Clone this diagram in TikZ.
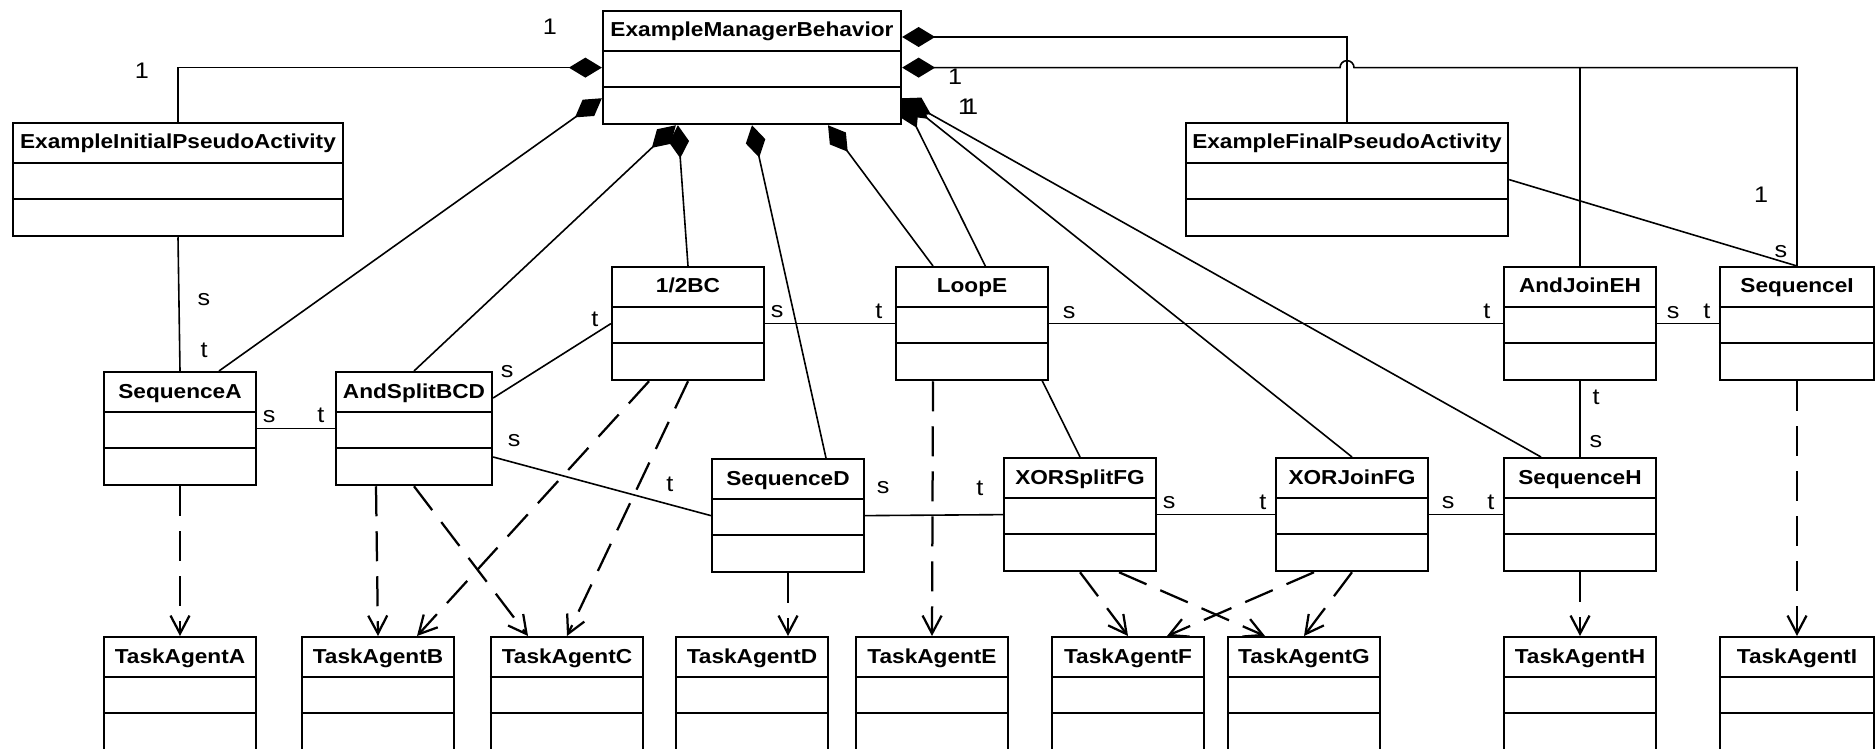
\documentclass[tikz,border=0pt]{standalone}
\usepackage{fontspec}
\setmainfont[FakeStretch=1.12]{Liberation Sans}
\usepackage{tikz}
\usetikzlibrary{calc,arrows.meta,backgrounds}
\tikzset{
  cls/.style={draw, fill=white, line width=0.45mm, anchor=north, minimum height=22.6mm, inner sep=0pt},
  ttl/.style={anchor=base, font=\bfseries\fontsize{11.5}{13}\selectfont, inner sep=0pt},
  rowline/.style={line width=0.45mm},
  assoc/.style={line width=0.32mm},
  comp/.style={assoc, {Diamond[length=6.6mm,width=4mm]}-},
  dep/.style={line width=0.45mm, dash pattern=on 6mm off 3mm, -{Straight Barb[length=3.6mm,width=3.8mm]}},
  lab/.style={font=\fontsize{12.8}{14}\selectfont, inner sep=0pt},
}

\begin{document}
\begin{tikzpicture}[x=0.2mm, y=-0.2mm]
  \useasboundingbox (0,0) rectangle (1876,749);
  % classes: name/x/top/width/title
  \foreach \n/\x/\y/\w/\t in {
      emb/752/10/298/ExampleManagerBehavior,
      init/178/122/330/ExampleInitialPseudoActivity,
      final/1347/122/322/ExampleFinalPseudoActivity,
      half/688/266/152/{1/2BC},
      loopE/972/266/152/LoopE,
      andJ/1580/266/152/AndJoinEH,
      seqI/1797/266/154/SequenceI,
      seqA/180/371/152/SequenceA,
      andS/414/371/156/AndSplitBCD,
      seqD/788/458/152/SequenceD,
      xorS/1080/457/152/XORSplitFG,
      xorJ/1352/457/152/XORJoinFG,
      seqH/1580/457/152/SequenceH,
      taskA/180/636/152/TaskAgentA,
      taskB/378/636/152/TaskAgentB,
      taskC/567/636/152/TaskAgentC,
      taskD/752/636/152/TaskAgentD,
      taskE/932/636/152/TaskAgentE,
      taskF/1128/636/152/TaskAgentF,
      taskG/1304/636/152/TaskAgentG,
      taskH/1580/636/152/TaskAgentH,
      taskI/1797/636/154/TaskAgentI}{
    \node[cls, minimum width=\w*0.2mm] (\n) at (\x,\y) {};
    \node[ttl] (\n-t) at ($(\n.north)+(0,27)$) {\t};
    \draw[rowline] ($(\n.north west)+(0,41)$) -- ($(\n.north east)+(0,41)$)
                   ($(\n.north west)+(0,77)$) -- ($(\n.north east)+(0,77)$);
  }

  \begin{pgfonlayer}{background}
    % composition from the manager
    \draw[comp] (emb.west) node[lab, shift={(-52,-41)}] {1} -| (init.north) node[lab, pos=0.5, shift={(-36,3)}] {1};
    \draw[comp] ($(emb.north east)+(0,27)$) -| (final.north);
    \draw[comp] (emb.east) node[lab, shift={(53,9)}] {1} -- ($(final.north |- emb.east)+(-7,0)$)
      arc[start angle=180, end angle=0, radius=1.4mm] -- (seqI.north |- emb.east) -- (seqI.north);
    \draw[assoc] (andJ.north |- emb.east) -- (andJ.north);
    \draw[assoc] (final.east) -- (seqI.north) node[lab, shift={(-36,-71)}] {1} node[lab, shift={(-16,-14)}] {s};
    \draw[comp] ($(emb.south west)+(0,-27)$) -- ($(seqA.north)+(39,0)$);
    \draw[comp] ($(emb.south west)+(74,0)$) -- (andS.north);
    \draw[comp] ($(emb.south west)+(76,0)$) -- (half.north);
    \draw[comp] (emb.south) -- ($(seqD.north)+(38,0)$);
    \draw[comp] ($(emb.south)+(76,0)$) -- ($(loopE.north)+(-39,0)$);
    \draw[comp] ($(emb.south east)+(0,-27)$) -- (xorS.north);
    \draw[comp] ($(emb.south east)+(0,-27)$) node[lab, shift={(63,9)}] {1} -- (xorJ.north);
    \draw[comp] ($(emb.south east)+(0,-27)$) node[lab, shift={(69,9)}] {1} -- ($(seqH.north)+(-39,0)$);

    % source / target links
    \draw[assoc] (init.south) node[lab, shift={(26,62)}] {s} -- (seqA.north) node[lab, shift={(24,-21)}] {t};
    \draw[assoc] (seqA.east) node[lab, shift={(12,-12)}] {s} -- (andS.west) node[lab, shift={(-14,-13)}] {t};
    \draw[assoc] ($(andS.north east)+(0,27)$) node[lab, shift={(14,-26)}] {s} -- (half.west) node[lab, shift={(-16,-4)}] {t};
    \draw[assoc] ($(andS.north east)+(0,86)$) node[lab, shift={(21,-16)}] {s} -- (seqD.west) node[lab, shift={(-41,-31)}] {t};
    \draw[assoc] (half.east) node[lab, shift={(12,-12)}] {s} -- (loopE.west) node[lab, shift={(-16,-12)}] {t};
    \draw[assoc] (loopE.east) node[lab, shift={(20,-11)}] {s} -- (andJ.west) node[lab, shift={(-16,-12)}] {t};
    \draw[assoc] (andJ.east) node[lab, shift={(16,-11)}] {s} -- (seqI.west) node[lab, shift={(-12,-12)}] {t};
    \draw[assoc] (andJ.south) node[lab, shift={(16,16)}] {t} -- (seqH.north) node[lab, shift={(16,-15)}] {s};
    \draw[assoc] (seqD.east) node[lab, shift={(18,-28)}] {s} -- (xorS.west) node[lab, shift={(-23,-26)}] {t};
    \draw[assoc] (xorS.east) node[lab, shift={(12,-12)}] {s} -- (xorJ.west) node[lab, shift={(-12,-12)}] {t};
    \draw[assoc] (xorJ.east) node[lab, shift={(19,-12)}] {s} -- (seqH.west) node[lab, shift={(-12,-12)}] {t};

    % dependencies on the task agents
    \draw[dep] (seqA) -- (taskA);
    \draw[dep] ($(andS.south)+(-38,0)$) -- (taskB.north);
    \draw[dep] (andS.south) -- ($(taskC.north)+(-39,0)$);
    \draw[dep] ($(half.south)+(-39,0)$) -- ($(taskB.north)+(39,0)$);
    \draw[dep] (half.south) -- (taskC.north);
    \draw[dep] (seqD.south) -- (seqD.south |- taskD.north);
    \draw[dep] ($(loopE.south)+(-39,0)$) -- (taskE.north);
    \draw[dep] (xorS.south) -- (taskF.north);
    \draw[dep] ($(xorS.south)+(39,0)$) -- ($(taskG.north)+(-39,0)$);
    \draw[dep] ($(xorJ.south)+(-38,0)$) -- ($(taskF.north)+(39,0)$);
    \draw[dep] (xorJ.south) -- (taskG.north);
    \draw[dep] (seqH) -- (taskH);
    \draw[dep] (seqI) -- (taskI);
  \end{pgfonlayer}
\end{tikzpicture}
\end{document}
